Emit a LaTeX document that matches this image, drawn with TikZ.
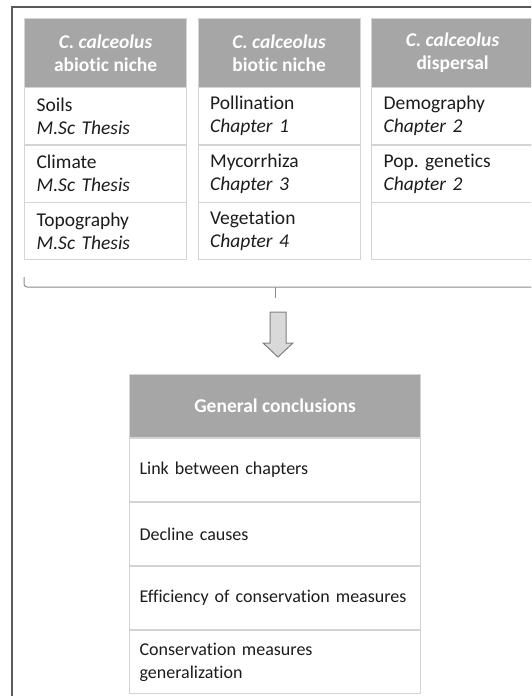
\documentclass[tikz,border=0pt]{standalone}
\usepackage{fontspec}
\setmainfont{Carlito}[Ligatures={NoCommon,NoRequired,NoContextual}]
\usepackage{tikz}
\definecolor{hdrgray}{RGB}{166, 166, 166}
\definecolor{cellline}{RGB}{212, 212, 212}
\definecolor{textgray}{RGB}{28, 28, 28}
\definecolor{framegray}{RGB}{90, 90, 90}
\definecolor{arrowfill}{RGB}{217, 217, 217}
\frenchspacing

\begin{document}
\begin{tikzpicture}[x=1pt, y=-1pt,
      hdr/.style={draw=cellline, fill=hdrgray, line width=1.2pt,
                  minimum width=162pt, minimum height=69pt,
                  inner sep=0pt, align=center, anchor=north west,
                  text=white, font=\fontsize{19.5}{23}\selectfont\bfseries},
      cell/.style={draw=cellline, line width=1.2pt,
                   text width=138pt, inner xsep=12pt, inner ysep=0pt,
                   minimum height=57.3pt, align=left, anchor=north west,
                   text=textgray, font=\fontsize{19.5}{23}\selectfont},
      chdr/.style={hdr, minimum width=291pt, minimum height=62.8pt},
      crow/.style={cell, text width=271pt, inner xsep=10pt,
                   minimum height=62.8pt, font=\fontsize{18}{23}\selectfont},
    ]
    \useasboundingbox (0,0) rectangle (531,696);
    \clip (0,0) rectangle (531,696);
    \def\colw{173.5}
    \def\rowh{57.3}
    %% outer frame (cut off on the right and at the bottom)
    \draw[framegray, line width=1.5pt] (12,7) rectangle (545,710);
    %% column headers
    \node[hdr] (h0) at (24, 18) {\textit{C. calceolus}\\abiotic niche};
    \node[hdr] (h1) at (24+\colw, 18) {\textit{C. calceolus}\\biotic niche};
    \node[hdr] (h2) at (24+2*\colw, 18) {\textit{C. calceolus}\\dispersal};
    %% first column
    \node[cell] (c0-0) at (24, 87) {Soils\\\textit{M.Sc Thesis}};
    \node[cell] (c1-0) at (24, 87+\rowh) {Climate\\\textit{M.Sc Thesis}};
    \node[cell] (c2-0) at (24, 87+2*\rowh) {Topography\\\textit{M.Sc Thesis}};
    %% second column
    \node[cell] (c0-1) at (24+\colw, 87) {Pollination\\\textit{Chapter 1}};
    \node[cell] (c1-1) at (24+\colw, 87+\rowh) {Mycorrhiza\\\textit{Chapter 3}};
    \node[cell] (c2-1) at (24+\colw, 87+2*\rowh) {Vegetation\\\textit{Chapter 4}};
    %% third column
    \node[cell] (c0-2) at (24+2*\colw, 87) {Demography\\\textit{Chapter 2}};
    \node[cell] (c1-2) at (24+2*\colw, 87+\rowh) {Pop. genetics\\\textit{Chapter 2}};
    \node[cell] (c2-2) at (24+2*\colw, 87+2*\rowh) {\phantom{X}\\\phantom{X}};
    %% bracket under the three columns
    \coordinate (brL) at (c2-0.south west |- 0,277);
    \coordinate (brR) at (540,277);
    \coordinate (brM) at (275,287);
    \draw[framegray!70, line width=1pt, rounded corners=3pt]
      (brL) -- (brL |- brM) -- (brR |- brM) -- (brR);
    \draw[framegray!70, line width=1pt] (brM) -- ++(0,11);
    %% block arrow
    \draw[gray, fill=arrowfill, line width=1pt]
      (270,312) -- (286,312) -- (286,343) -- (293,343) -- (278,357)
      -- (263,343) -- (270,343) -- cycle;
    %% general conclusions
    \node[chdr] (g) at (129, 374) {General conclusions};
    \node[crow] (g1) at (g.south west) {Link between chapters};
    \node[crow] (g2) at (g1.south west) {Decline causes};
    \node[crow] (g3) at (g2.south west) {Efficiency of conservation measures};
    \node[crow] (g4) at (g3.south west) {Conservation measures\\generalization};
\end{tikzpicture}
\end{document}
